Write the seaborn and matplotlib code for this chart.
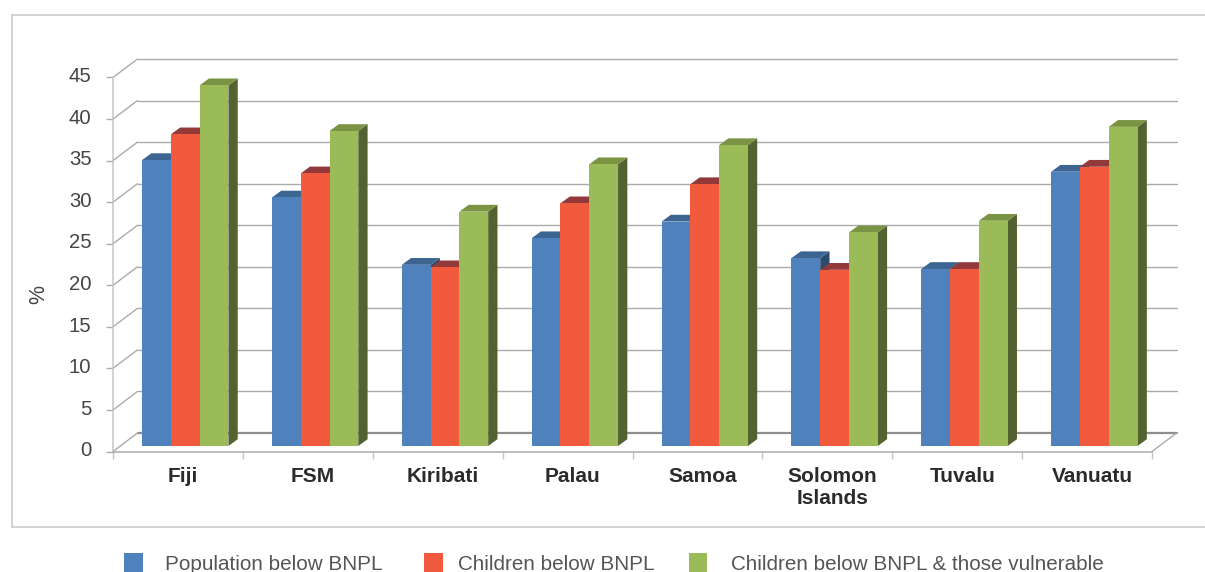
import matplotlib
matplotlib.use("Agg")
import matplotlib.pyplot as plt
import pandas as pd
import seaborn as sns
from matplotlib.lines import Line2D
from matplotlib.patches import Polygon, Rectangle
from matplotlib.ticker import FixedLocator
from matplotlib.transforms import Affine2D, IdentityTransform

countries = ["Fiji", "FSM", "Kiribati", "Palau", "Samoa", "Solomon\nIslands", "Tuvalu", "Vanuatu"]
series_names = ["Population below BNPL", "Children below BNPL", "Children below BNPL & those vulnerable"]
population_below = [34.4, 29.9, 21.8, 25.0, 27.0, 22.6, 21.3, 33.0]
children_below = [37.5, 32.8, 21.5, 29.2, 31.5, 21.2, 21.3, 33.6]
children_vulnerable = [43.4, 37.9, 28.2, 33.9, 36.2, 25.7, 27.1, 38.4]
y_ticks = [0, 5, 10, 15, 20, 25, 30, 35, 40, 45]

front_colors = ["#4F81BD", "#F15A3C", "#9BBB59"]
top_colors = ["#3C6592", "#93393A", "#7A9444"]
side_colors = ["#2C4A6E", "#8A3A2F", "#546231"]
line_grey = "#ABABAB"
frame_grey = "#C6C6C6"
text_grey = "#444444"

W, H = 1205, 572
sns.set_theme(style="white")
plt.rcParams["font.family"] = ["Liberation Sans", "DejaVu Sans"]

fig = plt.figure(figsize=(W / 100, H / 100), dpi=100, facecolor="white")
ax = fig.add_axes([113 / W, 1 - 451.5 / H, (1152 - 113) / W, (451.5 - 77.5) / H])

df = pd.DataFrame({
    "country": countries * 3,
    "series": [s for s in series_names for _ in countries],
    "value": population_below + children_below + children_vulnerable,
})
sns.barplot(data=df, x="country", y="value", hue="series", order=countries,
            hue_order=series_names, palette=front_colors, saturation=1,
            width=0.665, gap=0, legend=False, linewidth=0, ax=ax)
ax.set_xlim(-0.5, 7.5)
ax.set_ylim(0, 45)
ax.set_xlabel("")
ax.set_ylabel("")
ax.patch.set_alpha(0)

for side in ("top", "right"):
    ax.spines[side].set_visible(False)
for side in ("left", "bottom"):
    ax.spines[side].set_color(line_grey)
    ax.spines[side].set_linewidth(1.1)
ax.spines["left"].set_color(frame_grey)

# Back wall and side-wall offsets of the pseudo-3D box, in pixels
WALL_DX, WALL_DY = 24.5, 18.5
wall = ax.transData + Affine2D().translate(WALL_DX, WALL_DY)
for v in y_ticks:
    ax.plot([-0.5, 7.5], [v, v], transform=wall, clip_on=False, zorder=0.5,
            color="#8E8E8E" if v == 0 else line_grey, lw=1.6 if v == 0 else 1.0)
    x0, y0 = ax.transData.transform((-0.5, v))
    ax.add_line(Line2D([x0, x0 + WALL_DX], [y0, y0 + WALL_DY], transform=IdentityTransform(),
                       color=line_grey, lw=1.0, zorder=0.5, clip_on=False))
xr, yr = ax.transData.transform((7.5, 0))
ax.add_line(Line2D([xr, xr + WALL_DX], [yr, yr + WALL_DY], transform=IdentityTransform(),
                   color=line_grey, lw=1.0, zorder=0.5, clip_on=False))

# Bars stand slightly in front of the back wall; each gets a top and a side face
BAR_SHIFT_X, BAR_SHIFT_Y = 7.3, 5.5
DEPTH_X, DEPTH_Y = 9.3, 6.8
shift = Affine2D().translate(BAR_SHIFT_X, BAR_SHIFT_Y)
entries = []
for hue_index, container in enumerate(ax.containers):
    for bar in container:
        entries.append((bar.get_x(), hue_index, bar))
for order, (_, hue_index, bar) in enumerate(sorted(entries, key=lambda e: e[0])):
    x0 = bar.get_x()
    x1 = x0 + bar.get_width()
    h = bar.get_height()
    (px0, py0), (px1, py1) = shift.transform(ax.transData.transform([(x0, 0), (x1, h)]))
    side = Polygon([(px1, py0), (px1 + DEPTH_X, py0 + DEPTH_Y), (px1 + DEPTH_X, py1 + DEPTH_Y), (px1, py1)],
                   closed=True, transform=IdentityTransform(), facecolor=side_colors[hue_index],
                   edgecolor="none", zorder=2 + order, clip_on=False)
    top = Polygon([(px0, py1), (px0 + DEPTH_X, py1 + DEPTH_Y), (px1 + DEPTH_X, py1 + DEPTH_Y), (px1, py1)],
                  closed=True, transform=IdentityTransform(), facecolor=top_colors[hue_index],
                  edgecolor="none", zorder=2 + order, clip_on=False)
    ax.add_patch(side)
    ax.add_patch(top)
    bar.set_transform(ax.transData + shift)
    bar.set_zorder(2.5 + order)
    bar.set_clip_on(False)

# Axis ticks: value ticks on the left, category separators along the floor
ax.set_yticks(y_ticks)
ax.tick_params(axis="y", which="major", left=True, length=5, width=1.0, color=line_grey,
               pad=10.5, labelsize=14.6, labelcolor=text_grey)
for label in ax.get_yticklabels():
    label.set_transform(label.get_transform() + Affine2D().translate(0, 2.8))

ax.set_xticks(range(len(countries)))
ax.set_xticklabels(countries, fontweight="bold", fontsize=15, color="#2B2B2B", linespacing=1.2)
ax.xaxis.set_minor_locator(FixedLocator([i - 0.5 for i in range(len(countries) + 1)]))
ax.tick_params(axis="x", which="major", bottom=False, length=0, pad=11.5)
ax.tick_params(axis="x", which="minor", bottom=True, length=5, width=1.0, color=frame_grey)
for label in ax.get_xticklabels():
    label.set_transform(label.get_transform() + Affine2D().translate(5, 0))

fig.text(39 / W, 1 - 295 / H, "%", rotation=90, ha="center", va="center", fontsize=15.5, color=text_grey)

# Outer frame, open on the right
for xs, ys in [((12, W), (15, 15)), ((12, 12), (15, 526.5)), ((12, W), (526.5, 526.5))]:
    fig.add_artist(Line2D([x / W for x in xs], [1 - y / H for y in ys], color=frame_grey, lw=1.1))

# Legend row along the bottom edge
swatch_x = [124, 424, 689]
text_x = [165, 458, 731]
for name, color, sx, tx in zip(series_names, front_colors, swatch_x, text_x):
    fig.add_artist(Rectangle((sx / W, 0), 18.5 / W, (H - 552.7) / H, transform=fig.transFigure,
                             facecolor=color, edgecolor="none"))
    fig.text(tx / W, 1 - 570 / H, name, ha="left", va="baseline", fontsize=14.9, color="#555555")

fig.savefig("out.png", dpi=100, facecolor="white")
